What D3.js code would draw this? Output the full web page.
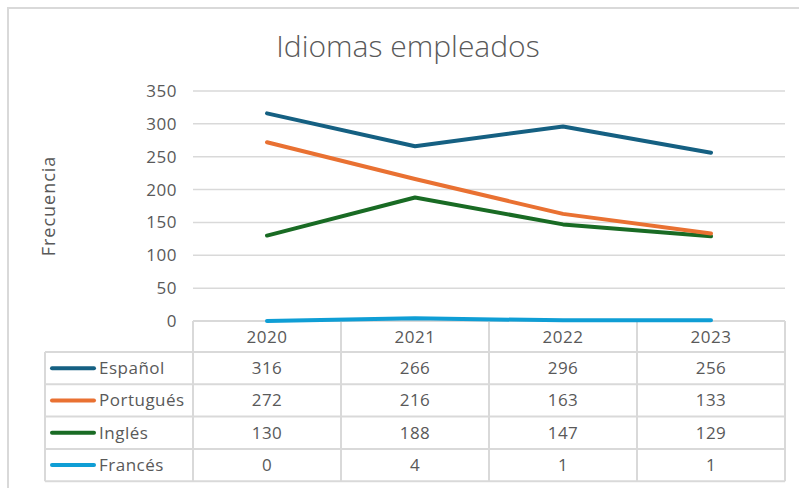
<!DOCTYPE html>
<html>
<head>
<meta charset="utf-8">
<script src="https://cdn.jsdelivr.net/npm/d3@7/dist/d3.min.js"></script>
<style>
  body { margin: 0; background: #fff; }
  svg { display: block; font-family: "Open Sans", "Liberation Sans", sans-serif; }
</style>
</head>
<body>
<div id="chart"></div>
<script>
const years = ['2020', '2021', '2022', '2023'];
const seriesNames = ['Español', 'Portugués', 'Inglés', 'Francés'];
const espanol = [316, 266, 296, 256];
const portugues = [272, 216, 163, 133];
const ingles = [130, 188, 147, 129];
const frances = [0, 4, 1, 1];
const yTicks = [0, 50, 100, 150, 200, 250, 300, 350];
const colors = ['#156082', '#e97132', '#196b24', '#0f9ed5'];

const series = [espanol, portugues, ingles, frances].map((values, i) => ({
    name: seriesNames[i],
    color: colors[i],
    values: values
}));

const width = 799;
const height = 488;
const textColor = '#595959';
const gridColor = '#d9d9d9';
const labelSize = '17px';
const labelSpacing = '0.5px';

const svg = d3.select('#chart')
    .append('svg')
    .attr('width', width)
    .attr('height', height);

// outer chart frame (runs off the right and bottom edge)
svg.append('rect')
    .attr('x', 8)
    .attr('y', 8)
    .attr('width', 820)
    .attr('height', 520)
    .attr('fill', 'none')
    .attr('stroke', gridColor)
    .attr('stroke-width', 2);

svg.append('text')
    .attr('x', 408)
    .attr('y', 57)
    .attr('text-anchor', 'middle')
    .attr('fill', textColor)
    .attr('font-size', '30px')
    .attr('font-weight', 300)
    .text('Idiomas empleados');

const x = d3.scaleBand()
    .domain(years)
    .range([193, 785])
    .padding(0);

const y = d3.scaleLinear()
    .domain([0, 350])
    .range([321, 91]);

const cx = d => x(d) + x.bandwidth() / 2;

// gridlines
svg.append('g')
    .selectAll('line')
    .data(yTicks.filter(t => t > 0))
    .join('line')
    .attr('x1', x.range()[0])
    .attr('x2', x.range()[1])
    .attr('y1', d => y(d))
    .attr('y2', d => y(d))
    .attr('stroke', gridColor)
    .attr('stroke-width', 1.5);

// y tick labels
svg.append('g')
    .selectAll('text')
    .data(yTicks)
    .join('text')
    .attr('x', 177)
    .attr('y', d => y(d) + 6)
    .attr('text-anchor', 'end')
    .attr('fill', textColor)
    .attr('font-size', labelSize)
    .attr('letter-spacing', labelSpacing)
    .text(d => d);

svg.append('text')
    .attr('transform', 'translate(55, 206) rotate(-90)')
    .attr('text-anchor', 'middle')
    .attr('fill', textColor)
    .attr('font-size', '18px')
    .attr('letter-spacing', '1px')
    .text('Frecuencia');

// data table
const tableTop = 321;
const headerH = 31;
const rowH = 32.3;
const tableLeft = 45;
const rowY = i => tableTop + headerH + i * rowH;
const tableBottom = rowY(series.length);

const grid = svg.append('g')
    .attr('stroke', gridColor)
    .attr('stroke-width', 2);

grid.append('line')
    .attr('x1', x.range()[0]).attr('x2', x.range()[1])
    .attr('y1', tableTop).attr('y2', tableTop);

grid.selectAll('.hrow')
    .data(d3.range(series.length + 1))
    .join('line')
    .attr('class', 'hrow')
    .attr('x1', tableLeft).attr('x2', x.range()[1])
    .attr('y1', d => rowY(d)).attr('y2', d => rowY(d));

grid.selectAll('.vcol')
    .data(years.concat(['end']))
    .join('line')
    .attr('class', 'vcol')
    .attr('x1', d => d === 'end' ? x.range()[1] : x(d))
    .attr('x2', d => d === 'end' ? x.range()[1] : x(d))
    .attr('y1', tableTop)
    .attr('y2', tableBottom);

grid.append('line')
    .attr('x1', tableLeft).attr('x2', tableLeft)
    .attr('y1', rowY(0)).attr('y2', tableBottom);

// header years
svg.append('g')
    .selectAll('text')
    .data(years)
    .join('text')
    .attr('x', d => cx(d))
    .attr('y', tableTop + headerH / 2 + 6)
    .attr('text-anchor', 'middle')
    .attr('fill', textColor)
    .attr('font-size', labelSize)
    .attr('letter-spacing', labelSpacing)
    .text(d => d);

const rows = svg.append('g')
    .selectAll('g')
    .data(series)
    .join('g')
    .attr('transform', (d, i) => `translate(0, ${rowY(i) + rowH / 2})`);

rows.append('line')
    .attr('x1', 52)
    .attr('x2', 94)
    .attr('stroke', d => d.color)
    .attr('stroke-width', 4)
    .attr('stroke-linecap', 'round');

rows.append('text')
    .attr('x', 99)
    .attr('y', 6)
    .attr('fill', textColor)
    .attr('font-size', labelSize)
    .attr('letter-spacing', labelSpacing)
    .text(d => d.name);

rows.selectAll('.val')
    .data(d => d.values.map((v, j) => ({ v, year: years[j] })))
    .join('text')
    .attr('class', 'val')
    .attr('x', d => cx(d.year))
    .attr('y', 6)
    .attr('text-anchor', 'middle')
    .attr('fill', textColor)
    .attr('font-size', labelSize)
    .attr('letter-spacing', labelSpacing)
    .text(d => d.v);

// lines
const line = d3.line()
    .x((d, i) => cx(years[i]))
    .y(d => y(d));

svg.append('g')
    .selectAll('path')
    .data(series.slice().reverse())
    .join('path')
    .attr('d', d => line(d.values))
    .attr('fill', 'none')
    .attr('stroke', d => d.color)
    .attr('stroke-width', 4)
    .attr('stroke-linecap', 'round')
    .attr('stroke-linejoin', 'round');
</script>
</body>
</html>
